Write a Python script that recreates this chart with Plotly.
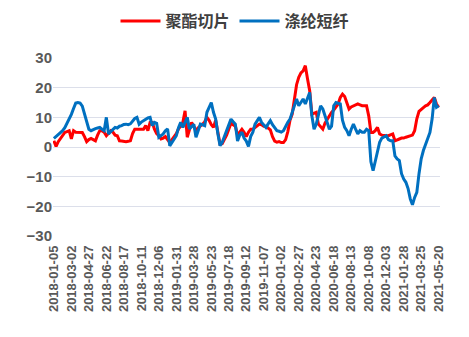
import plotly.graph_objects as go

# Weekly tick labels (every 8th week)
tick_labels = [
    "2018-01-05", "2018-03-02", "2018-04-27", "2018-06-22", "2018-08-17",
    "2018-10-11", "2018-12-06", "2019-01-31", "2019-03-28", "2019-05-23",
    "2019-07-18", "2019-09-12", "2019-11-07", "2020-01-02", "2020-02-27",
    "2020-04-23", "2020-06-18", "2020-08-13", "2020-10-08", "2020-12-03",
    "2021-01-28", "2021-03-25", "2021-05-20",
]
tick_step = 8

# 聚酯切片 weekly values
polyester_chip = [
    2.1, 0.2, 1.8, 2.9, 4.0, 4.9, 5.2, 5.5, 2.7, 5.5,
    5.0, 4.9, 5.0, 4.9, 3.5, 1.8, 2.5, 2.9, 2.5, 2.1,
    4.0, 5.5, 5.5, 5.0, 3.8, 4.6, 5.5, 5.0, 4.0, 3.8,
    2.1, 2.0, 1.8, 1.8, 1.9, 2.1, 4.5, 6.0, 6.0, 6.0,
    6.2, 6.0, 7.2, 5.5, 8.3, 8.3, 6.0, 4.5, 3.8, 2.7,
    3.0, 3.5, 2.5, 1.5, 2.5, 3.5, 4.5, 6.1, 7.0, 8.3,
    12.2, 3.3, 6.0, 8.3, 7.0, 5.5, 6.5, 7.0, 7.7, 8.5,
    10.0, 9.0, 7.5, 6.6, 9.0, 5.0, 1.0, 1.1, 2.5, 4.0,
    6.0, 8.0, 7.5, 7.0, 4.0, 5.0, 6.0, 5.0, 3.5, 5.0,
    6.0, 6.0, 6.5, 7.0, 7.7, 7.5, 7.0, 7.0, 6.5, 5.8,
    3.5, 2.0, 1.6, 1.8, 1.5, 1.5, 2.5, 5.2, 9.0, 11.1,
    16.0, 21.0, 23.5, 25.0, 25.7, 27.4, 23.0, 19.0, 11.1, 11.5,
    11.7, 7.7, 7.0, 6.0, 8.0, 9.4, 10.5, 11.7, 12.5, 13.4,
    14.5, 16.7, 17.8, 17.0, 15.0, 12.8, 13.5, 13.9, 14.2, 14.5,
    14.2, 13.9, 13.9, 13.9, 10.5, 4.9, 4.9, 5.5, 6.6, 4.4,
    4.0, 3.8, 3.8, 3.8, 4.0, 4.4, 2.1, 2.3, 2.7, 3.0,
    3.0, 3.3, 3.6, 3.8, 4.0, 5.5, 9.5, 12.0, 12.8, 13.3,
    13.9, 14.2, 15.0, 16.0, 16.7, 14.5, 13.4,
]

# 涤纶短纤 weekly values
polyester_staple = [
    2.9, 3.5, 4.2, 4.8, 5.5, 6.5, 8.0, 9.4, 11.0, 13.0,
    14.8, 15.0, 14.8, 13.8, 11.0, 8.3, 6.0, 5.5, 6.0, 6.2,
    6.4, 6.6, 6.0, 5.5, 10.0, 4.4, 5.2, 6.0, 6.6, 6.4,
    7.0, 7.2, 7.6, 7.7, 7.5, 7.8, 8.9, 9.6, 10.0, 7.7,
    8.4, 8.9, 9.5, 9.8, 10.0, 7.2, 8.3, 8.0, 3.3, 4.0,
    4.4, 5.5, 6.1, 0.4, 1.6, 2.5, 3.8, 6.5, 8.3, 6.6,
    8.5, 10.0, 6.1, 7.0, 7.7, 3.3, 5.5, 7.7, 7.5, 7.2,
    11.7, 13.5, 15.0, 11.7, 9.4, 4.5, 0.4, 1.6, 3.5, 5.5,
    7.5, 9.4, 8.5, 7.7, 2.0, 4.0, 5.0, 3.0, 2.0, 0.2,
    3.5, 5.0, 7.7, 9.0, 10.0, 8.3, 7.5, 6.6, 7.8, 8.9,
    7.5, 6.6, 5.5, 5.3, 5.0, 5.5, 7.0, 8.3, 9.4, 11.5,
    13.4, 16.2, 13.9, 15.0, 16.2, 14.5, 16.5, 18.4, 10.5, 6.0,
    7.7, 10.5, 13.9, 12.8, 10.5, 8.3, 6.0, 7.0, 13.9, 15.0,
    14.8, 14.5, 9.0, 6.6, 5.5, 3.8, 6.0, 7.7, 6.0, 4.4,
    5.5, 5.0, 5.0, 6.0, 5.5, -5.0, -8.0, -4.5, -1.0, 1.6,
    3.0, 3.5, 3.8, 2.5, 2.1, 2.1, -3.0, -4.0, -4.6, -9.0,
    -10.8, -11.9, -14.0, -17.5, -19.5, -17.0, -15.3, -9.0, -4.0, -1.2,
    1.0, 2.5, 4.9, 9.5, 16.7, 13.4, 13.9,
]

week_index = list(range(len(polyester_chip)))
tick_positions = [i * tick_step for i in range(len(tick_labels))]

label_font = "Liberation Sans, Arial, Noto Sans CJK SC, sans-serif"

fig = go.Figure()
fig.add_trace(go.Scatter(
    x=week_index, y=polyester_chip, mode="lines", name="聚酯切片",
    line=dict(color="#FF0000", width=3),
))
fig.add_trace(go.Scatter(
    x=week_index, y=polyester_staple, mode="lines", name="涤纶短纤",
    line=dict(color="#0070C0", width=3),
))

fig.update_layout(
    width=469, height=337,
    margin=dict(l=53, r=29, t=58, b=101),
    paper_bgcolor="white", plot_bgcolor="white",
    showlegend=True,
    legend=dict(
        orientation="h", xref="container", x=0.5, xanchor="center",
        yref="container", y=1 - 21 / 337, yanchor="middle",
        font=dict(family="Noto Sans CJK SC, sans-serif", size=16, color="#404040", weight="bold"),
        itemwidth=40, entrywidth=64,
    ),
)

fig.update_xaxes(
    range=[-0.4, 176.6], automargin=False,
    tickmode="array", tickvals=tick_positions, ticktext=tick_labels,
    tickangle=-90, ticklabelstandoff=6,
    tickfont=dict(family=label_font, size=13, color="#595959", weight="bold"),
    showgrid=False, zeroline=False, showline=False, ticks="",
)
fig.update_yaxes(
    range=[-30, 30], dtick=10, automargin=False,
    tickfont=dict(family=label_font, size=15, color="#595959", weight="bold"),
    showgrid=True, gridcolor="#DCDFEA", gridwidth=1,
    zeroline=False, showline=False, ticks="",
)

fig.write_html("out.html")
